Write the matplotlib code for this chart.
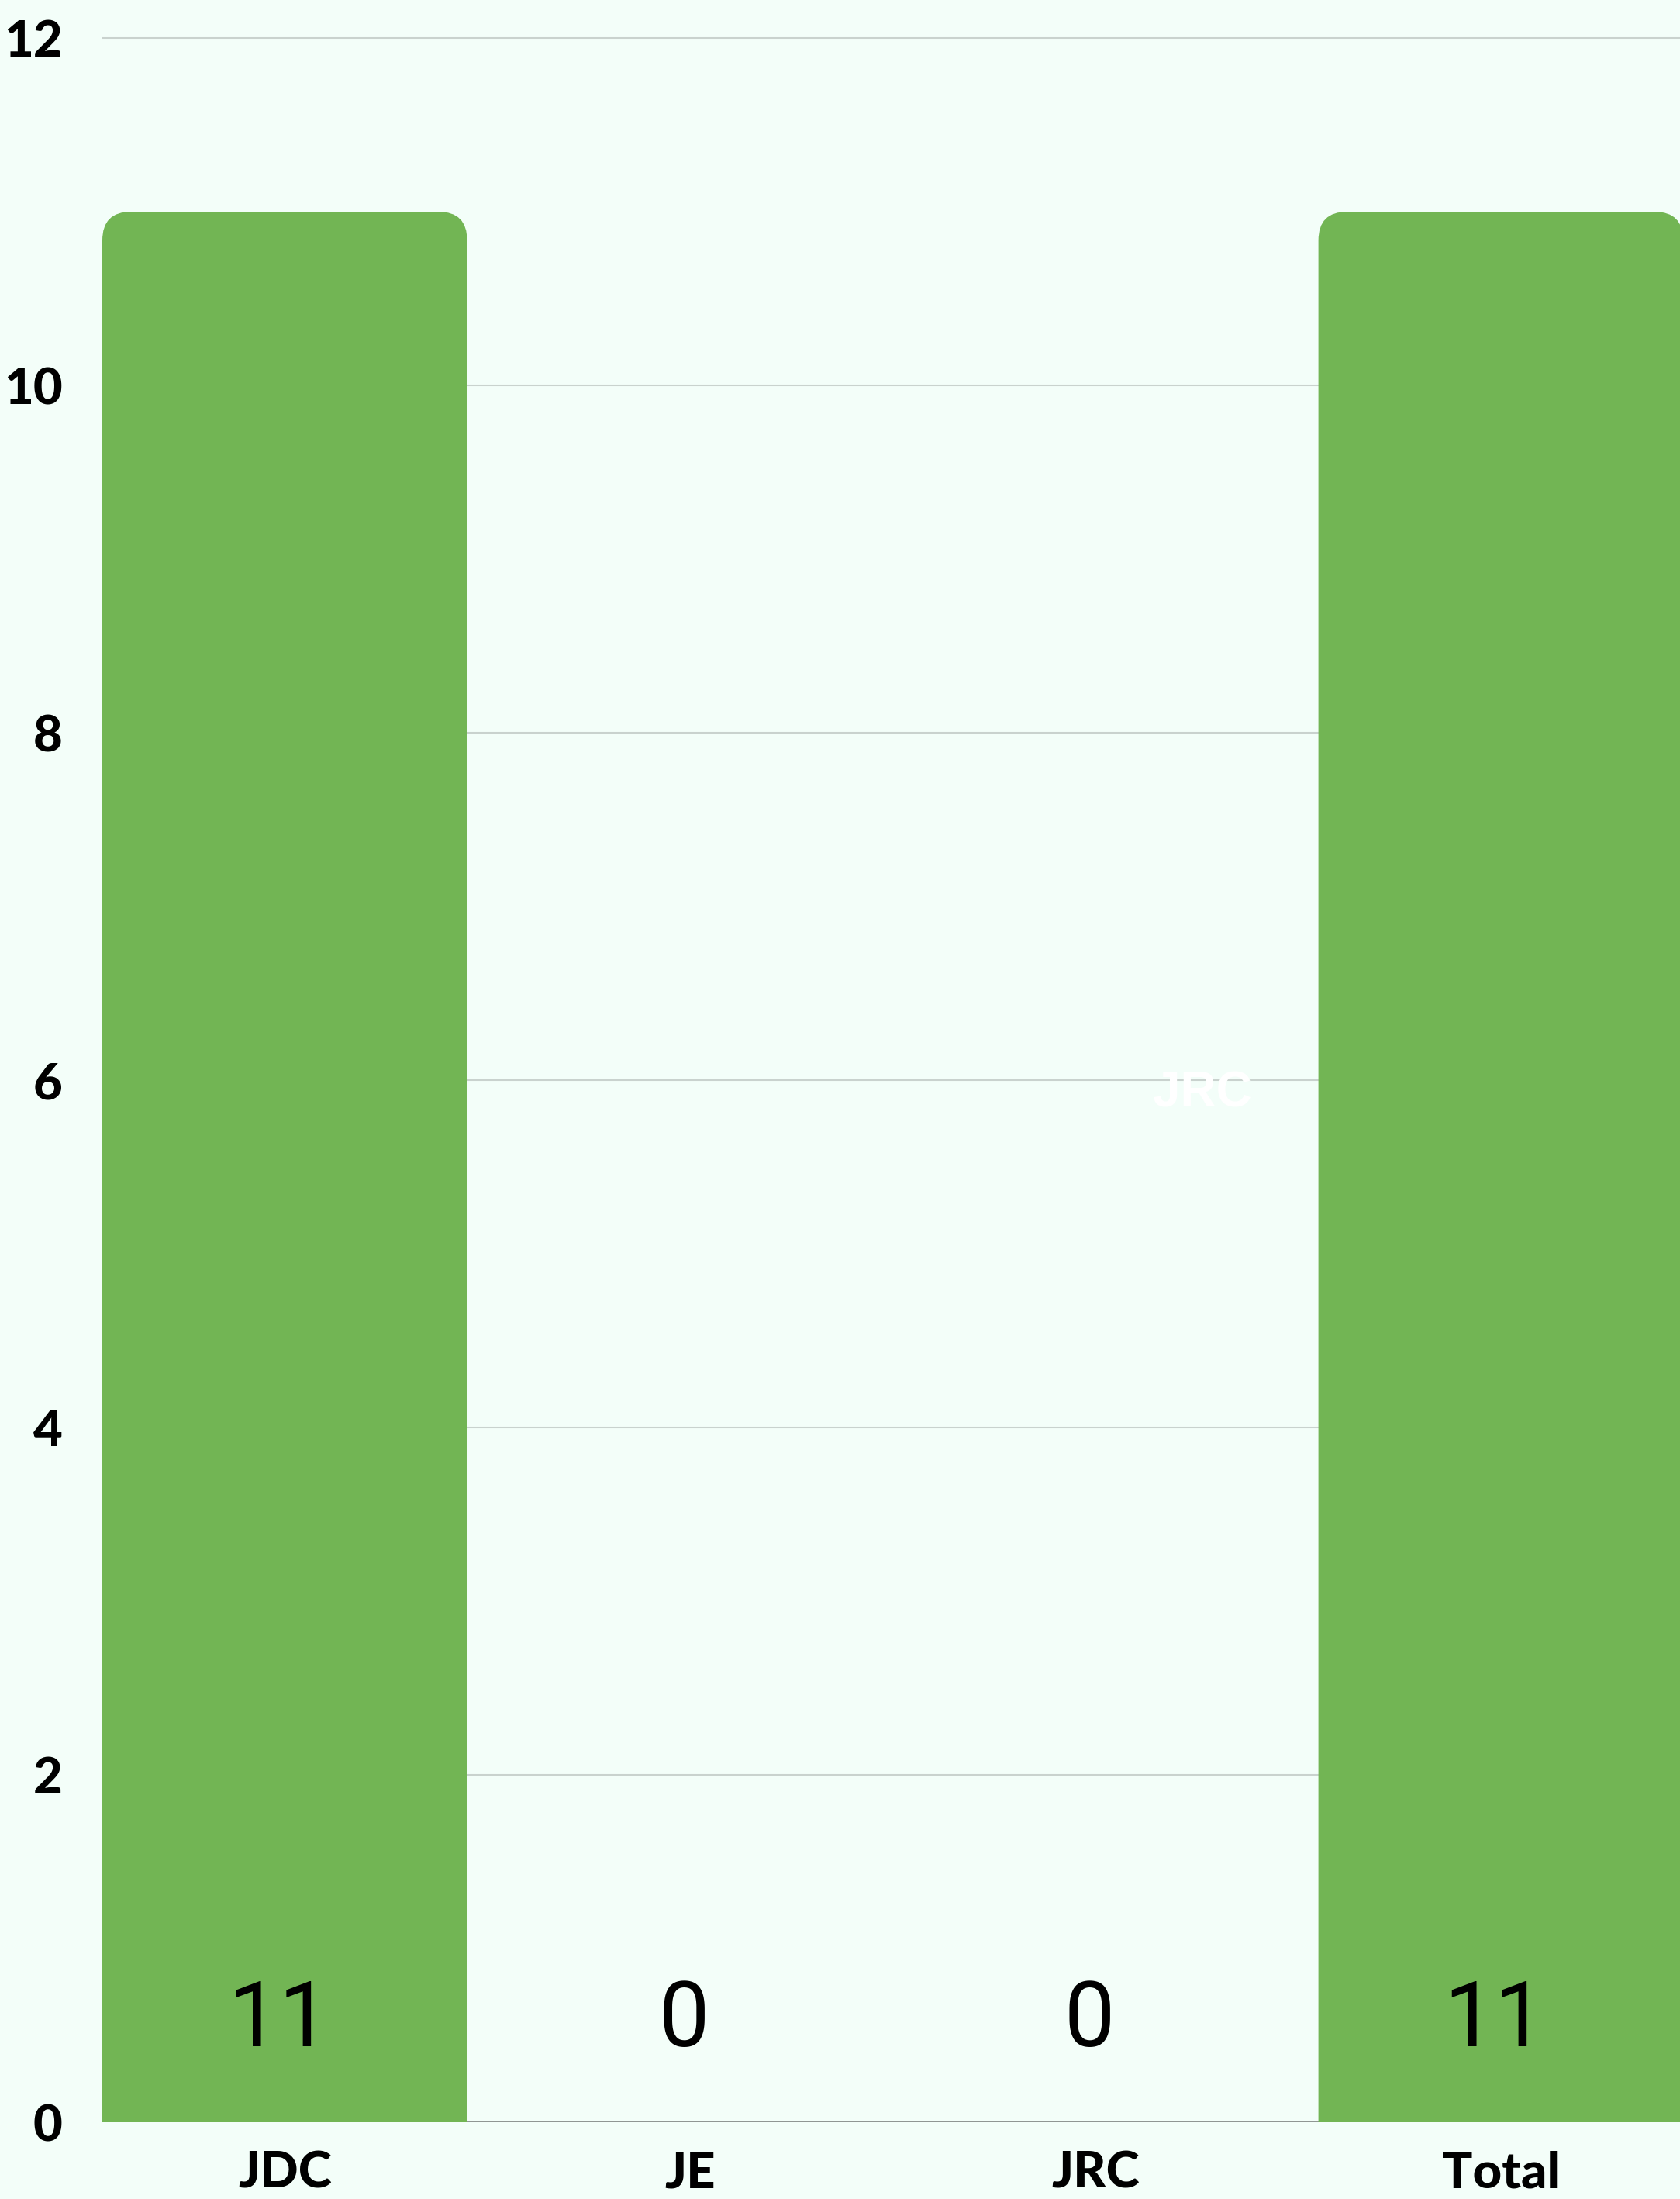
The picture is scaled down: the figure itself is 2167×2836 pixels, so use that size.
import matplotlib.pyplot as plt
from matplotlib.patches import FancyBboxPatch

categories = ["JDC", "JE", "JRC", "Total"]
counts = [11, 0, 0, 11]
y_ticks = [0, 2, 4, 6, 8, 10, 12]

bg = "#f3fef9"
bar_color = "#72b554"

W, H = 2167, 2836
fig = plt.figure(figsize=(W / 100, H / 100), dpi=100, facecolor=bg)
ax = fig.add_axes([132 / W, 99 / H, 1 - 132 / W, 2737 / H])
ax.set_facecolor(bg)

x = list(range(len(categories)))
bars = ax.bar(x, counts, 0.9, color=bar_color)
ax.set_xlim(-0.45, 3.442)
ax.set_ylim(0, 12.219)

# rounded tops: swap each rectangle for a rounded box that starts below the axis
fig.canvas.draw()
x0, y0 = ax.transData.inverted().transform((0, 0))
x1, y1 = ax.transData.inverted().transform((37, 37))
rx, ry = abs(x1 - x0), abs(y1 - y0)
for rect in bars:
    rect.set_visible(False)
    if rect.get_height() <= 0:
        continue
    ax.add_patch(FancyBboxPatch(
        (rect.get_x(), -1), rect.get_width(), rect.get_height() + 1,
        boxstyle=f"round,pad=0,rounding_size={rx}", mutation_aspect=ry / rx,
        facecolor=bar_color, edgecolor="none", zorder=3))

ax.set_yticks(y_ticks)
ax.set_xticks(x)
ax.set_xticklabels(categories)
ax.grid(axis="y", color="#c9d2ce", linewidth=1.5, zorder=0)
ax.set_axisbelow(True)
ax.axhline(0, color="#8a8f8d", linewidth=2, zorder=1)
for s in ax.spines.values():
    s.set_visible(False)

ax.tick_params(axis="both", length=0)
ax.tick_params(axis="y", pad=37)
ax.tick_params(axis="x", pad=26)
for lab in ax.get_yticklabels() + ax.get_xticklabels():
    lab.set_fontfamily("Lato")
    lab.set_fontweight("black")
    lab.set_fontsize(47)
    lab.set_color("black")

for xi, v in zip(x, counts):
    ax.text(xi - 0.015, 0.58, str(v), ha="center", va="center",
            fontfamily="Roboto", fontsize=84, color="black", zorder=5)

ax.text(2.263, 5.92, "JRC", ha="center", va="center", color="white",
        fontfamily="Liberation Sans", fontweight="bold", fontsize=46, zorder=2)

fig.savefig("out.png", dpi=100, facecolor=bg)
